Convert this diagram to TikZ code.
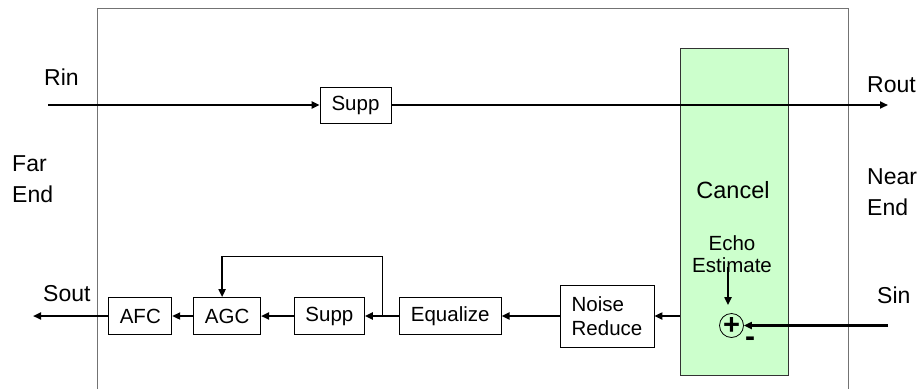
\documentclass[tikz,border=0pt]{standalone}
\usepackage{fontspec}
\setmainfont{Liberation Sans}
\usetikzlibrary{positioning, arrows.meta, calc}
\definecolor{cancelgreen}{HTML}{CCFFCC}

\begin{document}
\begin{tikzpicture}[x=1pt, y=-1pt,
  block/.style={draw, line width=0.8pt, minimum height=37pt, inner sep=2pt,
                font=\fontsize{20.5}{24}\selectfont, align=center},
  lbl/.style={inner sep=0pt, font=\fontsize{23}{31}\selectfont, align=left},
  cancelbox/.style={draw=black!80, fill=cancelgreen, line width=0.8pt},
  frame/.style={draw=black!55, line width=0.8pt},
  arr/.style={-{Triangle[length=8pt, width=7pt]}, line width=2.2pt},
  fbline/.style={line width=0.8pt},
]
\useasboundingbox (0,0) rectangle (920,389);

% Outer frame
\draw[frame] (97,389) -- (97,8) -- (848,8) -- (848,389);

% Cancel region
\node[cancelbox, minimum width=108pt, minimum height=327pt] (cancel) at (734,211.5) {};
\node[inner sep=0pt, font=\fontsize{23.5}{28}\selectfont, anchor=base] (canceltxt) at (733,198) {Cancel};
\node[inner sep=0pt, font=\fontsize{20.5}{22}\selectfont, align=center, anchor=north] (echo)
  at (732,235) {Echo\\Estimate};
\node[draw, circle, line width=0.8pt, minimum size=24pt, inner sep=0pt,
      font=\bfseries\fontsize{29}{29}\selectfont] (sum) at (731.5,325.5) {+};
\node[inner sep=0pt, font=\bfseries\fontsize{30}{30}\selectfont] (minus) at (750,342) {-};

% Receive path
\coordinate (rin) at (48,105);
\coordinate (rout) at (888,105);
\node[block, minimum width=71pt, minimum height=36pt] (rsupp) at (355.5,105) {Supp};
\draw[arr] (rin) -- (rsupp);
\draw[arr] (rsupp) -- (rout);

% Send path
\node[block, minimum width=94pt, minimum height=62pt, align=left] (noise) at (607,316) {Noise\\Reduce};
\node[block, minimum width=102pt, left=58pt of noise] (eq) {Equalize};
\node[block, minimum width=70pt, left=34pt of eq] (ssupp) {Supp};
\node[block, minimum width=67pt, left=33pt of ssupp] (agc) {AGC};
\node[block, minimum width=63pt, left=21pt of agc] (afc) {AFC};
\coordinate (sout) at (33,316);
\coordinate (sin) at (888,325.5);

% Labels
\node[lbl, anchor=base west] (rinlbl) at (44,85) {Rin};
\node[lbl, anchor=base west] (routlbl) at (867,92) {Rout};
\node[lbl, anchor=north west] (farend) at (12,155) {Far\\End};
\node[lbl, anchor=north west] (nearend) at (867,168) {Near\\End};
\node[lbl, anchor=base west] (soutlbl) at (43,301) {Sout};
\node[lbl, anchor=base west] (sinlbl) at (877,303) {Sin};

% Arrows
\draw[arr] (sin) -- (sum);
\draw[arr] ($(echo.south)+(-4,-5)$) -- ($(sum.north)+(-3.5,-8)$);
\draw[arr] (cancel.west |- noise) -- (noise);
\draw[arr] (noise) -- (eq);
\draw[arr] (eq) -- (ssupp);
\draw[arr] (ssupp) -- (agc);
\draw[arr] (agc) -- (afc);
\draw[arr] (afc) -- (sout);

% Feedback to AGC
\coordinate (fbtap) at ($(ssupp.east)!0.53!(eq.west)$);
\coordinate (fbleft) at ($(agc.north)+(-5,-41)$);
\draw[fbline] (fbtap) |- (fbleft);
\draw[arr] (fbleft) -- (fbleft |- agc.north);

\end{tikzpicture}
\end{document}
